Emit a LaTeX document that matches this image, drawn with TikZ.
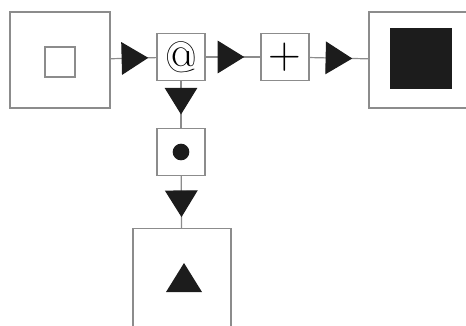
\documentclass[tikz,border=0pt]{standalone}
\usepackage{tikz}
\usetikzlibrary{arrows.meta,decorations.markings}

\definecolor{boxgray}{gray}{0.55}
\definecolor{inkblack}{gray}{0.11}

\begin{document}
\begin{tikzpicture}[
            x = 0.75pt, y = -0.75pt, % one unit is one pixel, y goes down
            box/.style = {shape=rectangle, draw=boxgray, line width=1.1pt, inner sep=0pt},
            big/.style = {box, minimum width=73.5pt, minimum height=72pt},
            small/.style = {box, minimum width=36pt, minimum height=35.25pt},
            flow/.style = {draw=boxgray, line width=0.9pt, postaction={decorate},
                decoration={markings, mark=at position #1 with
                    {\arrow{Triangle[length=20pt, width=24.5pt, color=inkblack]}}}}
        ]
\useasboundingbox (0,0) rectangle (466,325);
\clip (0,0) rectangle (466,325);

% boxes
\node[big, minimum width=75pt] (In) at (60,60) {};
\node[small, font=\fontsize{33}{36}\selectfont] (At) at (181,57) {@};
\node[small, font=\fontsize{34}{36}\selectfont] (Plus) at (285,57) {+};
\node[big, minimum width=79.5pt] (Out) at (422,60) {};
\node[small] (Dot) at (181,152) {};
\node[big, minimum height=80.25pt] (Tri) at (182,282) {};

% what the boxes hold
\node[shape=rectangle, draw=boxgray, line width=1.2pt, minimum size=22.5pt] (InMark) at (60,62) {};
\node[shape=rectangle, fill=inkblack, minimum width=46.5pt, minimum height=45.75pt] (OutMark) at (421,58) {};
\node[shape=circle, fill=inkblack, minimum size=12.5pt, inner sep=0pt] (DotMark) at (181,152) {};
\fill[inkblack] (166,292) -- (202,292) -- (184,263) -- cycle;

% connectors
\path[flow=-6pt] (In) -- (At);
\path[flow=-12pt] (At) -- (Plus);
\path[flow=-12pt] (Plus) -- (Out);
\path[flow=-10pt] (At) -- (Dot);
\path[flow=-8pt] (Dot) -- (Tri);
\end{tikzpicture}
\end{document}
